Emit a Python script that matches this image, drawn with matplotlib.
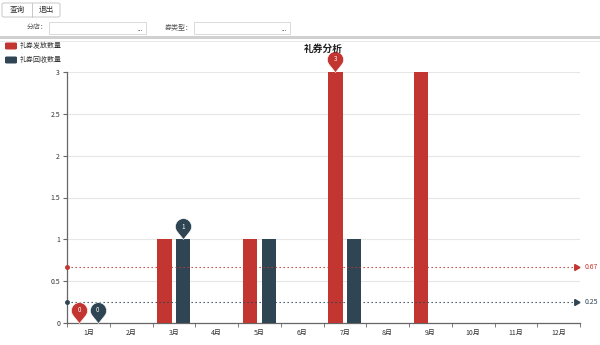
import numpy as np
import matplotlib.pyplot as plt
from matplotlib.path import Path
from matplotlib.patches import Rectangle, FancyBboxPatch

plt.rcParams['font.family'] = ['Noto Sans CJK SC', 'DejaVu Sans']

months = ['1月', '2月', '3月', '4月', '5月', '6月', '7月', '8月', '9月', '10月', '11月', '12月']
issued = [0, 0, 1, 0, 1, 0, 3, 0, 3, 0, 0, 0]
recovered = [0, 0, 1, 0, 1, 0, 1, 0, 0, 0, 0, 0]
series_names = ['礼券发放数量', '礼券回收数量']
yticks = [0, 0.5, 1, 1.5, 2, 2.5, 3]

RED = '#c23531'
DARK = '#2f4554'
W, H = 600, 345

fig = plt.figure(figsize=(6, 3.45), dpi=100)


def fx(px):
    return px / W


def fy(py):
    return 1 - py / H


# --- page header (buttons, filters) ---
fig.add_artist(FancyBboxPatch((fx(2), fy(17)), fx(58), 14 / H,
                              boxstyle='round,pad=0,rounding_size=0.004',
                              transform=fig.transFigure, fc='white', ec='#c8c8c8', lw=0.7))
fig.add_artist(plt.Line2D([fx(32), fx(32)], [fy(17), fy(3)], transform=fig.transFigure,
                          color='#c8c8c8', lw=0.7))
fig.text(fx(17), fy(10), '查询', fontsize=5.5, ha='center', va='center', color='#333')
fig.text(fx(46), fy(10), '退出', fontsize=5.5, ha='center', va='center', color='#333')

for label, lx, bx0, bx1 in [('分店：', 48, 49, 146), ('券类型：', 193, 194, 290)]:
    fig.text(fx(lx), fy(27), label, fontsize=5, ha='right', va='center', color='#555')
    fig.add_artist(Rectangle((fx(bx0), fy(34)), fx(bx1 - bx0), 12 / H,
                             transform=fig.transFigure, fc='white', ec='#d5d5d5', lw=0.6))
    fig.text(fx(bx1 - 6), fy(29), '...', fontsize=4.5, ha='center', va='center', color='#444')

fig.add_artist(Rectangle((0, fy(39)), 1, 2.5 / H, transform=fig.transFigure,
                         fc='#d0d0d0', ec='none'))
fig.add_artist(plt.Line2D([0, 1], [fy(40.5), fy(40.5)], transform=fig.transFigure,
                          color='#e6e6e6', lw=0.6))

# --- legend ---
for i, (name, col) in enumerate(zip(series_names, [RED, DARK])):
    cy = 46 + i * 14
    fig.add_artist(FancyBboxPatch((fx(5), fy(cy + 3.5)), fx(12), 7 / H,
                                  boxstyle='round,pad=0,rounding_size=0.003',
                                  transform=fig.transFigure, fc=col, ec='none'))
    fig.text(fx(20), fy(cy), name, fontsize=5, ha='left', va='center', color='#333')

fig.text(fx(323), fy(49), '礼券分析', fontsize=7, fontweight='bold',
         ha='center', va='center', color='#222')

# --- chart ---
ax = fig.add_axes([fx(67), fy(323), fx(580 - 67), (323 - 72) / H])
x = np.arange(len(months))
off, bw = 0.22, 0.33
ax.bar(x - off, issued, width=bw, color=RED, zorder=3)
ax.bar(x + off, recovered, width=bw, color=DARK, zorder=3)

ax.set_xlim(-0.5, len(months) - 0.5)
ax.set_ylim(0, 3)
ax.set_yticks(yticks)
ax.set_yticklabels([f'{v:g}' for v in yticks])
ax.set_xticks(x)
ax.set_xticklabels(months)
ax.set_xticks(np.arange(-0.5, len(months)), minor=True)
ax.tick_params(axis='x', which='major', length=0, labelsize=5, colors='#333', pad=4)
ax.tick_params(axis='x', which='minor', length=3, color='#666')
ax.tick_params(axis='y', length=3, labelsize=5, colors='#333', color='#666', pad=2)
ax.grid(axis='y', color='#e6e6e6', lw=0.8, zorder=0)
for s in ['top', 'right']:
    ax.spines[s].set_visible(False)
for s in ['left', 'bottom']:
    ax.spines[s].set_color('#666')
    ax.spines[s].set_linewidth(0.9)

# average mark lines
for vals, col in [(issued, RED), (recovered, DARK)]:
    avg = np.mean(vals)
    ax.plot([-0.5, 11.4], [avg, avg], ls=(0, (1.2, 2.4)), color=col, lw=0.8, zorder=4)
    ax.plot([-0.5], [avg], 'o', color=col, ms=2.5, zorder=5, clip_on=False)
    ax.plot([11.4], [avg], marker=(3, 0, -90), color=col, ms=5, zorder=5, clip_on=False)
    ax.annotate(f'{avg:.2f}', (11.5, avg), xytext=(3, 0), textcoords='offset points',
                fontsize=5, color=col, va='center', ha='left', annotation_clip=False)

# pin markers (max / min)
d, r = 1.6, 1.0
a = np.arccos(r / d)
t = np.linspace(-np.pi / 2 + a, 3 * np.pi / 2 - a, 40)
verts = [(0, 0)] + [(r * np.cos(tt), d + r * np.sin(tt)) for tt in t] + [(0, 0)]
pin = Path(verts, [Path.MOVETO] + [Path.LINETO] * (len(verts) - 2) + [Path.CLOSEPOLY])
pin_h = 0.5 * 30  # points
for vals, col, sx in [(issued, RED, -off), (recovered, DARK, off)]:
    for idx in [int(np.argmax(vals)), int(np.argmin(vals))]:
        xv, yv = x[idx] + sx, vals[idx]
        ax.plot([xv], [yv], marker=pin, ms=30, color=col, mec='white', mew=0.4,
                zorder=6, clip_on=False)
        ax.annotate(f'{yv:g}', (xv, yv), xytext=(0, pin_h * d / (d + r)),
                    textcoords='offset points', ha='center', va='center',
                    fontsize=4.5, color='white', zorder=7, annotation_clip=False)

fig.savefig('out.png', dpi=100)
